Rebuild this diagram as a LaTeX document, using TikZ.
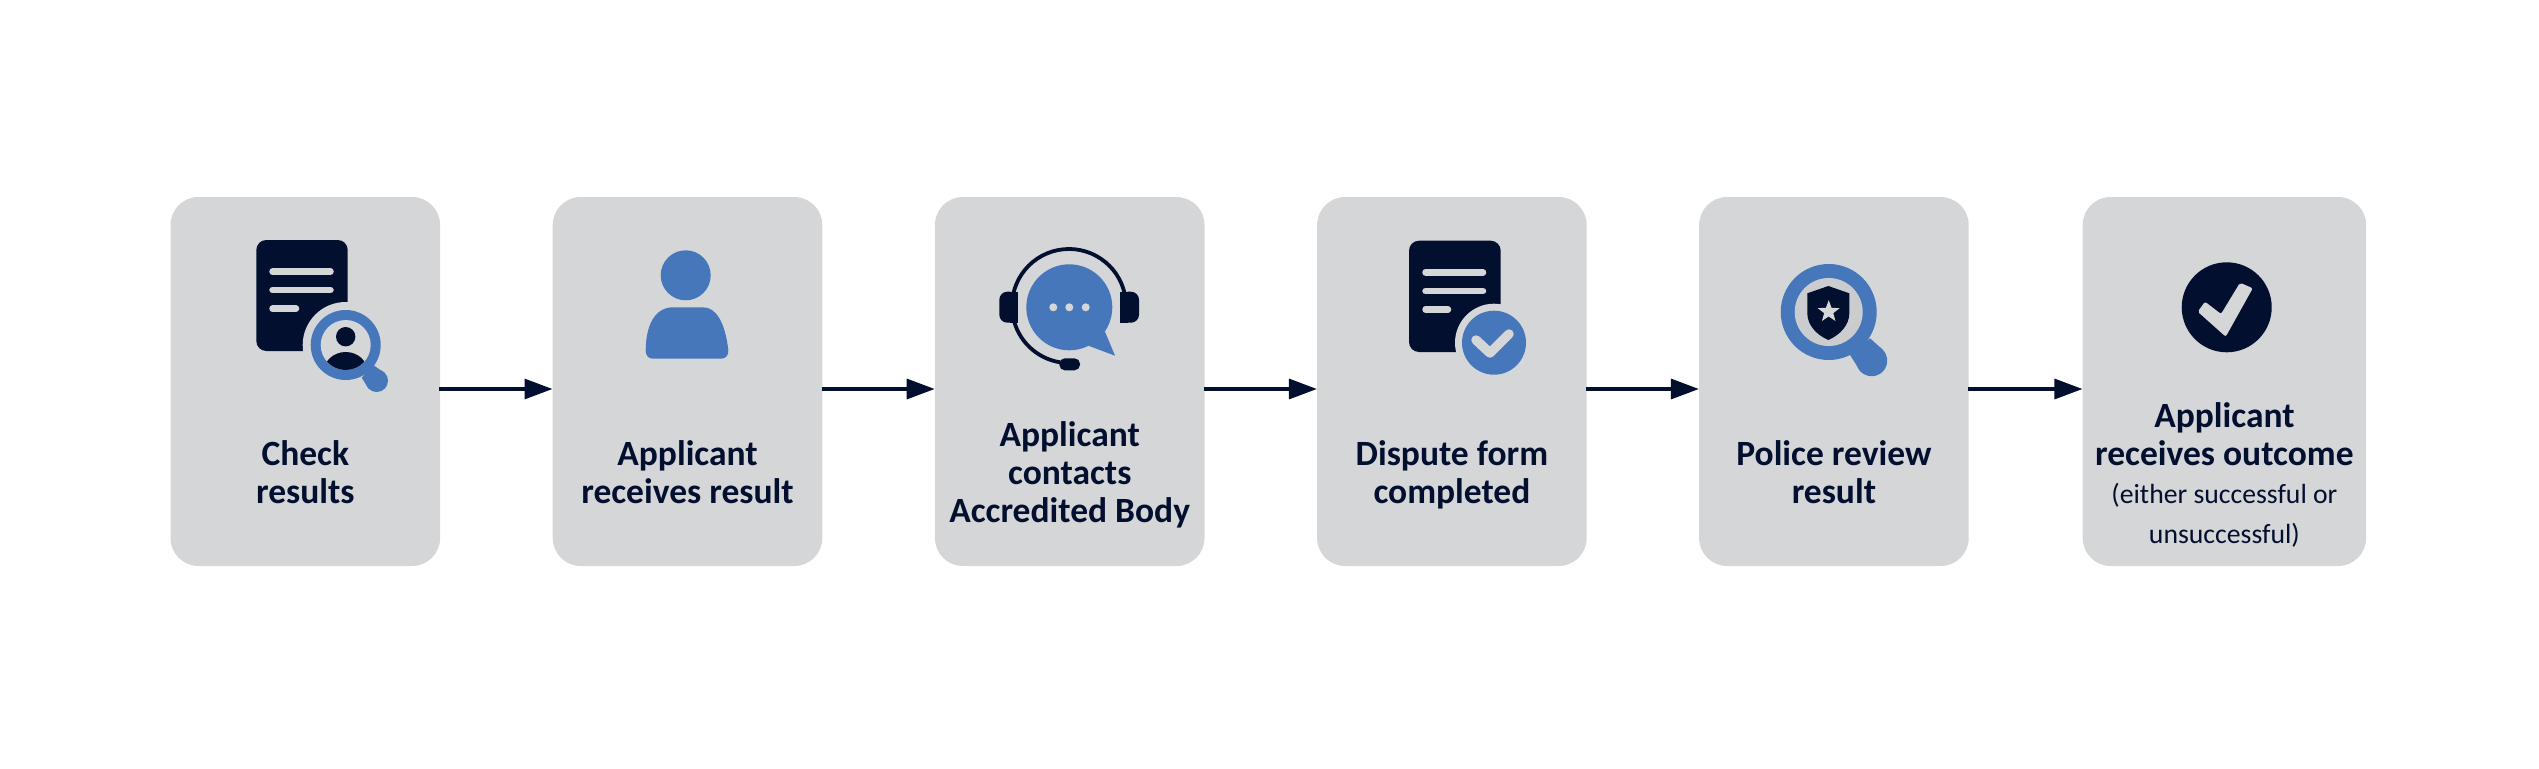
\documentclass[tikz,border=0pt]{standalone}
\usepackage{fontspec}
\setmainfont{Carlito}
\usetikzlibrary{arrows.meta}
\definecolor{navy}{HTML}{020F2E}
\definecolor{bluefill}{HTML}{4677BB}
\definecolor{panel}{HTML}{D5D6D8}
\definecolor{lens}{HTML}{CBCCCE}
\tikzset{
  x=1pt,y=-1pt,
  stepbox/.style={fill=panel,draw=none,rounded corners=28pt,inner sep=0pt,minimum height=369pt,minimum width=269.6pt},
  flow/.style={draw=navy,line width=3.2pt,shorten <=-1pt,-{Triangle[length=28pt,width=20pt]}},
  head/.style={font=\fontsize{35.5}{38}\selectfont\bfseries,text=navy,align=center,anchor=base,inner sep=0pt},
  note/.style={font=\fontsize{27.7}{40}\selectfont,text=navy,align=center,anchor=base,inner sep=0pt},
  darkfill/.style={fill=navy,draw=none},
  bluepaint/.style={fill=bluefill,draw=none},
  panelfill/.style={fill=panel,draw=none},
  docline/.style={draw=panel,line width=6.5pt,line cap=round},
}
\begin{document}
\begin{tikzpicture}
\useasboundingbox (0,0) rectangle (2539,768);
% boxes
\node[stepbox] (b1) at (305.3,381.5) {};
\node[stepbox] (b2) at (687.5,381.5) {};
\node[stepbox] (b3) at (1069.7,381.5) {};
\node[stepbox] (b4) at (1451.9,381.5) {};
\node[stepbox] (b5) at (1833.9,381.5) {};
\node[stepbox,minimum width=283.5pt] (b6) at (2224.4,381.5) {};
% connectors
\coordinate (y) at (0,389);
\foreach \a/\b in {b1/b2,b2/b3,b3/b4,b4/b5,b5/b6}{
  \draw[flow] (\a.east |- y) -- (\b.west |- y);
}
% labels
\node[head] (t1) at (305.3,503) {Check\\results};
\node[head] (t2) at (687.5,503) {Applicant\\receives result};
\node[head] (t3) at (1069.7,522) {Applicant\\contacts\\Accredited Body};
\node[head] (t4) at (1451.9,503) {Dispute form\\completed};
\node[head] (t5) at (1833.9,503) {Police review\\result};
\node[head] (t6) at (2224.4,465) {Applicant\\receives outcome};
\node[note] (t7) at (2224.4,543) {(either successful or\\unsuccessful)};
% icon 1
\fill[darkfill,rounded corners=10pt] (256.3,240) rectangle (347.7,351);
\draw[docline] (272.5,271.7) -- (330.5,271.7);
\draw[docline] (272.5,290) -- (330.5,290);
\draw[docline] (272.5,308.7) -- (296,308.7);
\fill[panelfill] (345.7,345) circle (43);
\fill[bluepaint] (345.7,345) circle (35);
\fill[bluepaint] (373.3,365) -- (384.5,373) -- (368.5,388.5) -- (361.7,377.7) -- cycle;
\fill[bluepaint] (376.7,380.7) circle (11.3);
\fill[panelfill] (345.7,345) circle (25);
\fill[darkfill] (345.7,336.7) circle (9.7);
\begin{scope}
  \clip (345.7,345) circle (25);
  \fill[darkfill] (345.7,372) ellipse (22 and 20);
\end{scope}
% icon 2
\fill[bluepaint] (685.7,275.3) circle (25);
\fill[bluepaint] (645.7,350) .. controls (646,325) and (655,307.3) .. (673,307.3) -- (703,307.3)
  .. controls (716,307.3) and (725,322) .. (728.3,350)
  .. controls (728.7,355) and (726,358.7) .. (721,358.7) -- (653,358.7)
  .. controls (648,358.7) and (645.5,355) .. (645.7,350) -- cycle;
% icon 3
\fill[bluepaint] (1069.3,307.3) circle (43);
\fill[bluepaint] (1105,331.7) -- (1115,355.7) -- (1088.3,345.7) -- cycle;
\foreach \dx in {1053.3,1069.3,1085.7}{ \fill[panelfill] (\dx,307.3) circle (4); }
\draw[navy,line width=3.8pt] (1069,306) ++(-11:57) arc (-11:-261:57);
\fill[darkfill,rounded corners=8pt] (999.3,291.7) -- (1017.7,291.7) -- (1017.7,322.7) -- (999.3,322.7) -- cycle;
\fill[darkfill] (1010,291.7) rectangle (1017.7,322.7);
\fill[darkfill,rounded corners=8pt] (1120,291.7) -- (1139,291.7) -- (1139,322.7) -- (1120,322.7) -- cycle;
\fill[darkfill] (1120,291.7) rectangle (1128,322.7);
\fill[darkfill,rounded corners=5.5pt] (1059.3,358.3) rectangle (1080,370.3);
% icon 4
\fill[darkfill,rounded corners=10pt] (1409,240.7) rectangle (1500.7,352);
\draw[docline] (1425.5,272.3) -- (1483,272.3);
\draw[docline] (1425.5,291) -- (1483,291);
\draw[docline] (1425.5,309.5) -- (1448,309.5);
\fill[panelfill] (1494,342.7) circle (39);
\fill[bluepaint] (1494,342.7) circle (32);
\draw[draw=panel,line width=9.5pt,line cap=round,line join=round] (1476,340) -- (1490,353) -- (1509,334);
% icon 5
\fill[bluepaint] (1828.7,312) circle (48);
\fill[bluepaint] (1870,338.3) -- (1882.5,349.5) -- (1860.5,371.5) -- (1850,355) -- cycle;
\fill[bluepaint] (1871.7,360.7) circle (15.5);
\fill[lens] (1828.7,312) circle (34);
\fill[darkfill] (1828.3,286) -- (1849.3,293.3) -- (1849.3,313.3)
  .. controls (1849.3,325) and (1840,335) .. (1828.3,340)
  .. controls (1816.6,335) and (1807.3,325) .. (1807.3,313.3) -- (1807.3,293.3) -- cycle;
\fill[fill=panel,draw=none] (1828.7,311.7)
  +(-90:11.5) -- +(-54:4.8) -- +(-18:11.5) -- +(18:4.8) -- +(54:11.5)
  -- +(90:4.8) -- +(126:11.5) -- +(162:4.8) -- +(198:11.5) -- +(234:4.8) -- cycle;
% icon 6
\fill[darkfill] (2226.7,307.3) circle (45);
\fill[panelfill,rounded corners=2pt] (2197.7,311.7) -- (2205,301.7) -- (2221,314) -- (2240,282.7)
  -- (2252.7,288.3) -- (2225.7,336.7) -- cycle;
\end{tikzpicture}
\end{document}
